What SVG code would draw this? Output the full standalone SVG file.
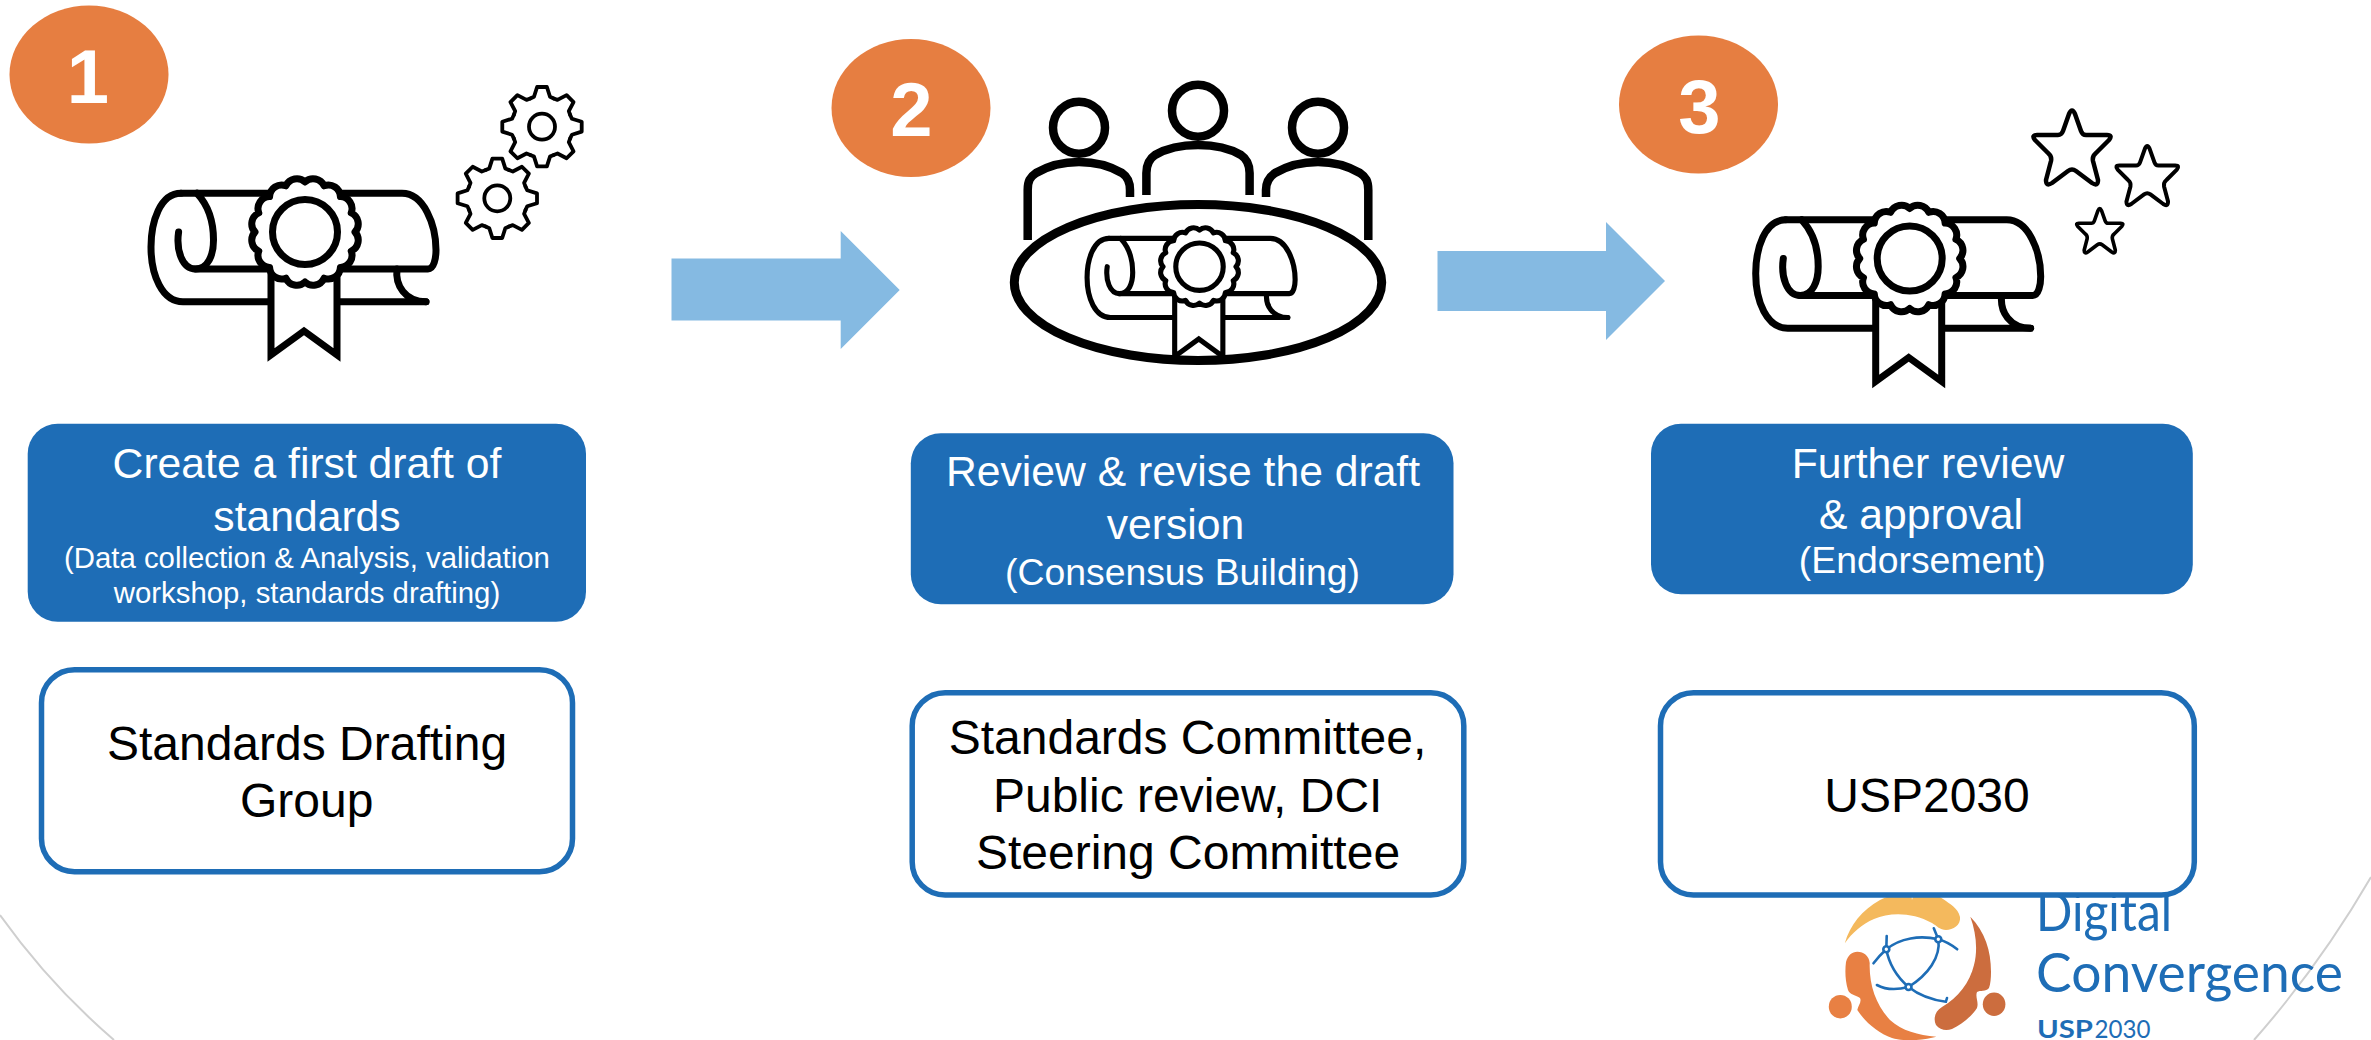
<svg xmlns="http://www.w3.org/2000/svg" xmlns:xlink="http://www.w3.org/1999/xlink" width="2371" height="1040" viewBox="0 0 2371 1040">
<style>
text{font-family:"Liberation Sans",Arial,sans-serif;text-anchor:middle}
.badge{fill:#E67E41}
.num{fill:#fff;font-weight:700;font-size:76px}
.blue{fill:#1E6DB6}
.box{fill:#fff;stroke:#1E6DB6;stroke-width:5.5}
.t1{fill:#fff;font-size:42.67px}
.t2{fill:#fff;font-size:37.33px}
.t2s{fill:#fff;font-size:29.33px}
.t3{fill:#000;font-size:48px}
.arrow{fill:#85BAE2}
.ink{fill:none;stroke:#000;stroke-width:7;stroke-linecap:round;stroke-linejoin:round}
.arc{fill:none;stroke:#CFCFCF;stroke-width:2}
.logotext{fill:#1E6DB6;font-family:Lato,"Open Sans",sans-serif;text-anchor:start}
</style>
<defs>
<g id="seal">
<path fill="#fff" stroke="#000" stroke-width="7" stroke-linejoin="round" d="M50 0A12 12 0 0 1 46.2 19.1A12 12 0 0 1 35.4 35.4A12 12 0 0 1 19.1 46.2A12 12 0 0 1 0 50A12 12 0 0 1 -19.1 46.2A12 12 0 0 1 -35.4 35.4A12 12 0 0 1 -46.2 19.1A12 12 0 0 1 -50 0A12 12 0 0 1 -46.2 -19.1A12 12 0 0 1 -35.4 -35.4A12 12 0 0 1 -19.1 -46.2A12 12 0 0 1 0 -50A12 12 0 0 1 19.1 -46.2A12 12 0 0 1 35.4 -35.4A12 12 0 0 1 46.2 -19.1A12 12 0 0 1 50 0Z"/>
<circle r="32.5" fill="none" stroke="#000" stroke-width="7"/>
</g>
<g id="scroll">
<path class="ink" d="M181 193.3H402C424 193.3 436 225 436 250C436 258 434 269 428 269H195.5C182 269 176 250 178.6 232"/>
<path class="ink" d="M181 193.3C160 193.3 151 222 151 247C151 275 162 301.7 183 301.7H426"/>
<path class="ink" d="M195.5 269C208 269 213.5 255 213.5 240C213.5 222 208 205 197 193.3"/>
<path class="ink" d="M397 269C395 285 405 301.7 426 301.7"/>
<path fill="#fff" stroke="#000" stroke-width="7" stroke-miterlimit="10" d="M271 268V355L304 331L337 355V268Z"/>
<use xlink:href="#seal" href="#seal" transform="translate(305 232)"/>
</g>
<path id="tooth" fill="none" stroke="#000" stroke-width="3.8" stroke-linecap="round" stroke-linejoin="round" d="M-11.7 -28.2L-8 -29.9L-4.9 -39.7H4.9L8 -29.9L11.7 -28.2"/>
<g id="gear">
<use href="#tooth"/><use href="#tooth" transform="rotate(45)"/><use href="#tooth" transform="rotate(90)"/><use href="#tooth" transform="rotate(135)"/><use href="#tooth" transform="rotate(180)"/><use href="#tooth" transform="rotate(225)"/><use href="#tooth" transform="rotate(270)"/><use href="#tooth" transform="rotate(315)"/>
<circle r="13" fill="none" stroke="#000" stroke-width="3.8"/>
</g>
<path id="star" fill="none" stroke="#000" stroke-linejoin="round" d="M-3 6Q0 -1 3 6L9 23Q10.5 27 14 27L35 27Q41 27 37 32L24 45Q20 48 21 53L26 72Q26 79 20 75L4 63Q0 60 -4 63L-20 75Q-26 79 -26 72L-21 53Q-20 48 -24 45L-37 32Q-41 27 -35 27L-14 27Q-10.5 27 -9 23Z"/>
</defs>
<rect width="2371" height="1040" fill="#fff"/>
<path id="arc-left" class="arc" d="M0 915Q50 985 114 1040"/>
<path id="arc-right" class="arc" d="M2371 877Q2320 965 2254 1040"/>

<g id="connectors">
<polygon class="arrow" points="671.5,258.6 840.7,258.6 840.7,231 899.7,290 840.7,349 840.7,320.6 671.5,320.6"/>
<polygon class="arrow" points="1437.5,251 1606,251 1606,222 1665,281 1606,340 1606,311 1437.5,311"/>
</g>

<g id="step1">
<ellipse class="badge" cx="89" cy="74.5" rx="79.5" ry="69"/>
<text class="num" x="88" y="103">1</text>
<use href="#scroll"/>
<use href="#gear" transform="translate(542 126.7)"/>
<use href="#gear" transform="translate(497.3 198.3)"/>
</g>
<g id="step2">
<ellipse class="badge" cx="911" cy="108" rx="79.5" ry="69"/>
<text class="num" x="911.5" y="135.7">2</text>
<g fill="none" stroke="#000" stroke-width="8.5">
<circle cx="1079" cy="127.7" r="26"/><circle cx="1198" cy="110.7" r="26"/><circle cx="1318" cy="127.7" r="26"/>
<path d="M1027.7 240V190C1027.7 181 1030 177 1036 173C1048 166 1063 162 1079 162C1095 162 1110 166 1122 173C1128 177 1130 183 1130 190V197"/>
<path d="M1146.4 195V173C1146.4 164 1149 159 1155 155C1167 148 1182 145 1198 145C1214 145 1229 148 1241 155C1247 159 1249.6 164 1249.6 173V195"/>
<path d="M1368.3 240V190C1368.3 181 1366 177 1360 173C1348 166 1333 162 1318 162C1302 162 1287 166 1275 173C1269 177 1266 183 1266 190V197"/>
</g>
<use href="#scroll" transform="translate(976.85 97.3) scale(.73)"/>
<ellipse cx="1198" cy="282.5" rx="183.7" ry="78" fill="none" stroke="#000" stroke-width="9"/>
</g>
<g id="step3">
<ellipse class="badge" cx="1698.5" cy="104.5" rx="79.5" ry="69"/>
<text class="num" x="1699.5" y="133">3</text>
<use href="#scroll" transform="translate(1604.7 26.5)"/>
<use href="#star" stroke-width="4.5" transform="translate(2072 108)"/>
<use href="#star" stroke-width="5" transform="translate(2147.25 144) scale(.8)"/>
<use href="#star" stroke-width="6" transform="translate(2099.75 207) scale(.6)"/>
</g>

<g id="logo">
<path fill="#F4B95D" d="M1844.8 943.3C1850 925 1862 910 1880 900C1890 895 1900 893 1911 893L1912 900L1914 893C1925 893 1935 893 1943 899C1950 904 1958 908 1960 917C1961 925 1953 930 1946 930C1940 930 1937 926 1932 923C1912 912 1890 912 1874 919C1862 924 1852 933 1844.8 943.3Z"/>
<path fill="#CC6D3E" d="M1970.3 916.7C1985 932 1991 950 1991 972C1991 978 1990.5 984 1989 988C1986 992 1980 990 1977 992C1975 997 1979 1002 1977 1008C1971 1017 1961 1025 1952 1029C1946 1031 1940 1030 1936 1025C1933 1019 1935 1011 1942 1007C1958 998 1970 982 1974 965C1978 950 1976 932 1970.3 916.7Z"/>
<ellipse fill="#CC6D3E" cx="1994.1" cy="1004.3" rx="11.3" ry="11.7"/>
<path fill="#E88043" d="M1857.3 951.7C1864 951.7 1869 956 1869.7 963C1869 985 1876 1005 1890 1020C1902 1031 1918 1035 1936.4 1036.7C1925 1040 1905 1042 1892 1038C1878 1033 1865 1022 1857.3 1010C1858 1006 1862 1002 1860 998C1856 995 1850 995 1848 990C1845 980 1845 970 1846 962C1848 955 1852 951.7 1857.3 951.7Z"/>
<ellipse fill="#E88043" cx="1840.3" cy="1006.7" rx="11.5" ry="11.8"/>
<g fill="none" stroke="#1E6DB6" stroke-width="2.6" stroke-linecap="round">
<path d="M1873.5 963.3Q1880 955 1886.3 949.3C1900 938 1920 935 1938.3 939.3Q1948 942 1957.2 949.3"/>
<path d="M1886.7 936L1886.3 949.3C1889 964 1897 977 1908.5 987C1920 996 1932 1000 1945.9 1001.7L1947 998"/>
<path d="M1933.8 928.3L1938.3 939.3C1941 957 1928 975 1908.5 987C1897 990 1886 990 1876.9 985"/>
</g>
<g fill="#fff" stroke="#1E6DB6" stroke-width="2.6"><circle cx="1886.3" cy="949.3" r="3"/><circle cx="1938.3" cy="939.3" r="3"/><circle cx="1908.5" cy="987" r="3"/></g>
<text class="logotext" x="2036" y="931" font-size="55" textLength="136" lengthAdjust="spacingAndGlyphs">Digital</text>
<text class="logotext" x="2036" y="992.3" font-size="55" textLength="307" lengthAdjust="spacingAndGlyphs">Convergence</text>
<text class="logotext" x="2037" y="1038" font-size="25" font-weight="700" textLength="56" lengthAdjust="spacingAndGlyphs">USP</text>
<text class="logotext" x="2094.5" y="1038" font-size="25" textLength="56" lengthAdjust="spacingAndGlyphs">2030</text>
</g>

<g id="task1">
<rect class="blue" x="27.7" y="423.7" width="558.3" height="198" rx="30"/>
<text class="t1" x="307" y="477.5">Create a first draft of</text>
<text class="t1" x="307" y="531">standards</text>
<text class="t2s" x="307" y="568">(Data collection &amp; Analysis, validation</text>
<text class="t2s" x="307" y="603">workshop, standards drafting)</text>
</g>
<g id="task2">
<rect class="blue" x="910.8" y="433.3" width="542.7" height="171" rx="30"/>
<text class="t1" x="1183" y="485.7">Review &amp; revise the draft</text>
<text class="t1" x="1175.5" y="539.3">version</text>
<text class="t2" x="1182.5" y="585">(Consensus Building)</text>
</g>
<g id="task3">
<rect class="blue" x="1651" y="423.7" width="541.8" height="170.6" rx="30"/>
<text class="t1" x="1928" y="477.7">Further review</text>
<text class="t1" x="1921" y="529">&amp; approval</text>
<text class="t2" x="1922.3" y="573.3">(Endorsement)</text>
</g>
<g id="owner1">
<rect class="box" x="41.5" y="669.7" width="531" height="202" rx="33"/>
<text class="t3" x="307" y="760">Standards Drafting</text>
<text class="t3" x="306.7" y="817">Group</text>
</g>
<g id="owner2">
<rect class="box" x="912.2" y="692.7" width="551.6" height="202.3" rx="33"/>
<text class="t3" x="1187.5" y="754.3">Standards Committee,</text>
<text class="t3" x="1187.7" y="811.7">Public review, DCI</text>
<text class="t3" x="1188" y="869.3">Steering Committee</text>
</g>
<g id="owner3">
<rect class="box" x="1660.5" y="692.7" width="533.8" height="202.3" rx="33"/>
<text class="t3" x="1927" y="811.7">USP2030</text>
</g>
</svg>
